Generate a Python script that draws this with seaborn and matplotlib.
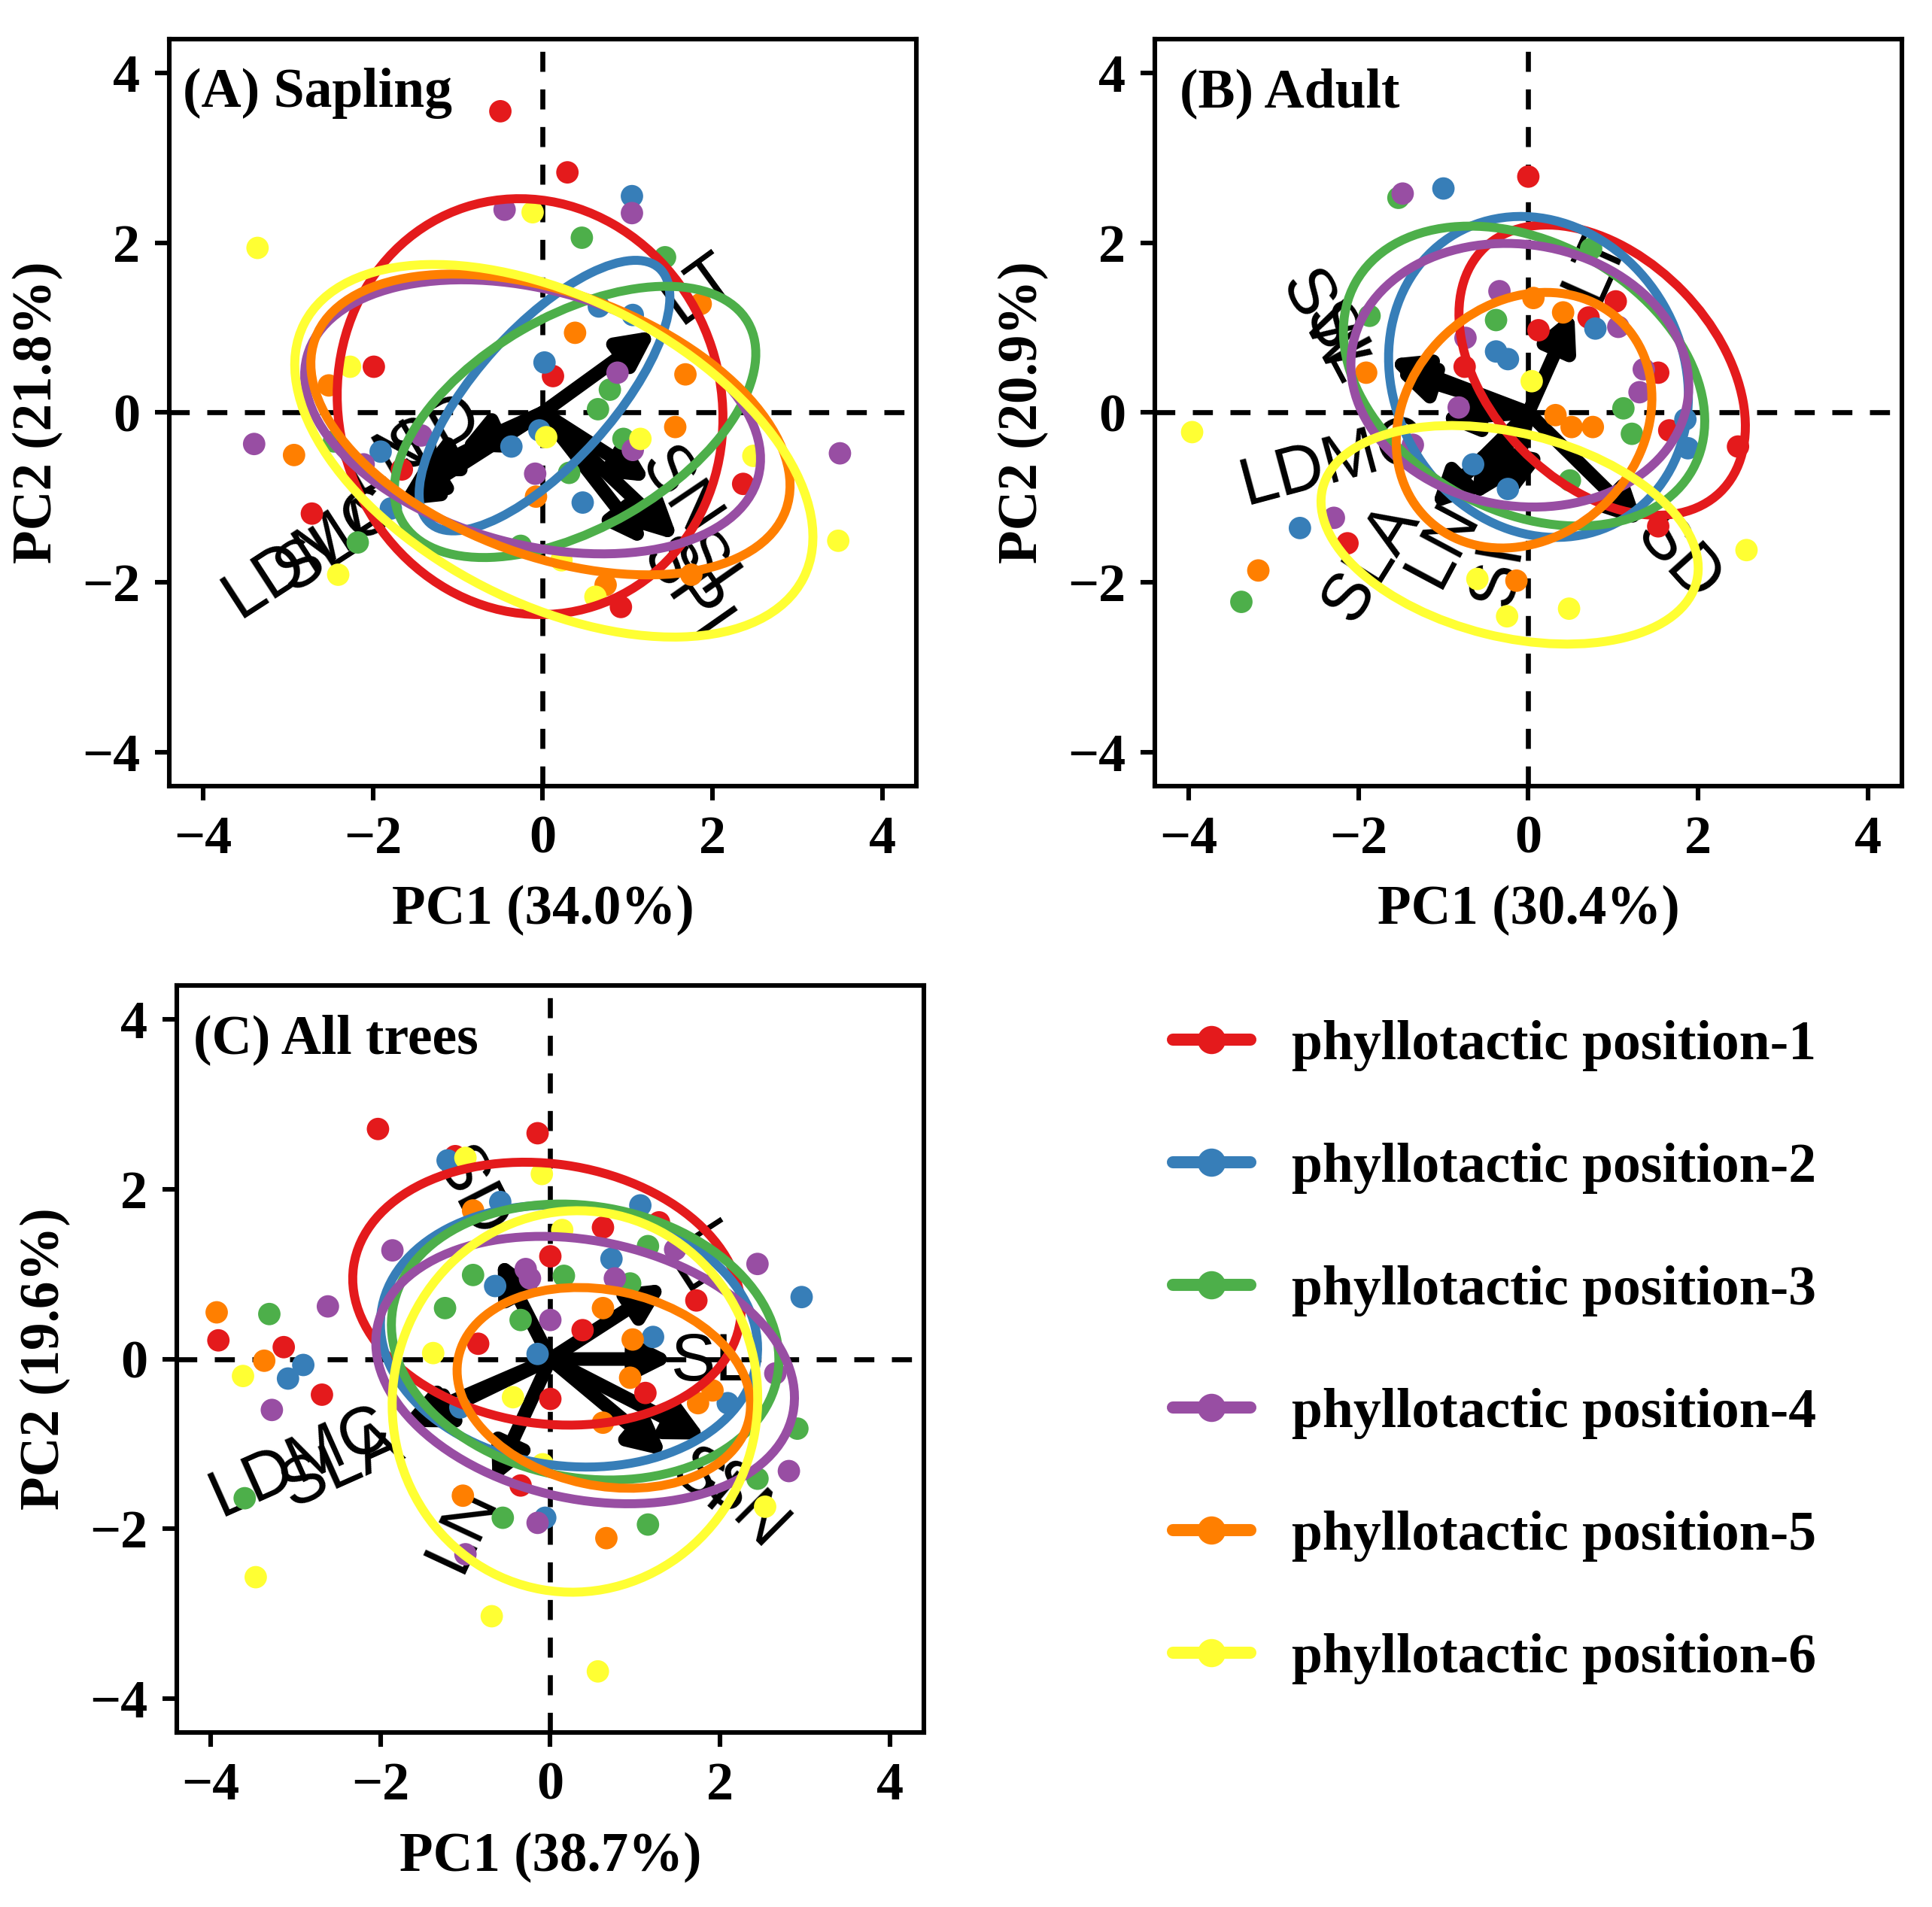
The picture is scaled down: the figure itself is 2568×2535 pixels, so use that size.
import matplotlib
matplotlib.use("Agg")
import matplotlib.pyplot as plt
from matplotlib.patches import Ellipse
from matplotlib.lines import Line2D
import pandas as pd
import seaborn as sns

# ---- data ---------------------------------------------------------------
positions = ["phyllotactic position-%d" % i for i in range(1, 7)]
colors = sns.color_palette("Set1", 6)

# scores per phyllotactic position (PC1, PC2)
sap_pts = {
    1: [(-0.50, 3.55), (0.29, 2.83), (-1.99, 0.54), (0.12, 0.43), (-2.72, -1.19),
        (2.36, -0.84), (0.92, -2.29), (-1.66, -0.67)],
    2: [(1.05, 2.55), (0.66, 1.25), (1.06, 1.15), (0.02, 0.59), (-1.91, -0.46),
        (-0.37, -0.40), (0.47, -1.06), (-0.04, -0.21), (-1.79, -1.13)],
    3: [(0.46, 2.06), (1.44, 1.83), (0.79, 0.27), (0.65, 0.04), (-2.46, -0.34),
        (0.31, -0.71), (0.95, -0.31), (-0.26, -1.57), (-2.18, -1.53)],
    4: [(-0.45, 2.39), (1.05, 2.35), (0.88, 0.47), (-3.40, -0.37), (-2.11, -0.61),
        (-1.43, -0.27), (-0.09, -0.72), (1.06, -0.44), (3.50, -0.48)],
    5: [(1.86, 1.28), (0.38, 0.94), (1.68, 0.45), (1.56, -0.17), (-2.93, -0.50),
        (-2.52, 0.32), (-0.08, -0.99), (0.74, -2.03), (1.75, -1.91)],
    6: [(-3.36, 1.94), (-0.12, 2.36), (-2.27, 0.54), (1.15, -0.31), (2.48, -0.51),
        (3.48, -1.51), (-2.41, -1.91), (0.62, -2.17), (0.04, -0.29), (0.22, -1.74)],
}
adu_pts = {
    1: [(0.00, 2.78), (1.03, 1.31), (0.12, 0.97), (0.71, 1.12), (1.53, 0.47),
        (-0.75, 0.54), (2.47, -0.40), (1.66, -0.21), (-2.13, -1.54), (1.53, -1.34)],
    2: [(-1.00, 2.64), (0.79, 0.99), (-0.38, 0.72), (-0.24, 0.63), (1.85, -0.08),
        (1.88, -0.42), (-2.69, -1.36), (-0.65, -0.61), (-0.24, -0.90)],
    3: [(-1.53, 2.53), (-1.87, 1.14), (-0.38, 1.09), (1.12, 0.05), (1.22, -0.25),
        (0.49, -0.80), (-3.38, -2.23), (0.74, 1.93)],
    4: [(-1.48, 2.58), (-0.34, 1.43), (-0.74, 0.88), (1.06, 1.01), (1.36, 0.51),
        (1.31, 0.24), (-0.82, 0.06), (-1.36, -0.38), (-2.29, -1.24)],
    5: [(-1.91, 0.47), (0.06, 1.35), (0.41, 1.18), (0.32, -0.03), (0.51, -0.17),
        (0.76, -0.17), (-3.18, -1.86), (-0.14, -1.98)],
    6: [(-3.96, -0.23), (0.04, 0.37), (2.57, -1.62), (-0.25, -2.40), (0.48, -2.31),
        (-0.60, -1.96)],
}
all_pts = {
    1: [(-2.03, 2.71), (-0.15, 2.66), (-3.91, 0.22), (-3.14, 0.14), (-2.69, -0.42),
        (0.00, 1.21), (-0.85, 0.18), (0.00, -0.47), (0.62, 1.55), (1.28, 1.61),
        (1.72, 0.69), (1.12, -0.40), (0.38, 0.34), (-1.12, 2.39), (-0.35, -1.49)],
    2: [(-1.21, 2.34), (-0.59, 1.85), (0.72, 1.18), (1.06, 1.81), (-0.65, 0.86),
        (1.21, 0.26), (2.96, 0.73), (-2.91, -0.07), (-3.09, -0.23), (2.09, -0.52),
        (-0.06, -1.87), (-1.06, -0.57), (-0.15, 0.06)],
    3: [(-3.31, 0.53), (-3.60, -1.64), (-0.91, 0.99), (-1.24, 0.60), (0.16, 0.98),
        (-0.35, 0.46), (1.15, 1.33), (2.91, -0.82), (1.15, -1.95), (-0.56, -1.87),
        (2.44, -1.41), (0.94, 0.89)],
    4: [(-2.62, 0.62), (-3.28, -0.60), (-1.86, 1.28), (-0.29, 1.06), (-0.24, 0.95),
        (0.00, 0.46), (0.76, 0.95), (1.47, 1.29), (2.44, 1.12), (2.81, -1.32),
        (-0.15, -1.93), (-1.00, -2.30), (2.65, -0.17)],
    5: [(-3.93, 0.55), (-3.37, -0.02), (-0.91, 1.75), (0.62, 0.60), (0.97, 0.23),
        (0.94, -0.22), (1.74, -0.52), (1.91, -0.37), (0.66, -2.11), (-1.03, -1.61),
        (0.62, -0.75)],
    6: [(-3.62, -0.20), (-3.47, -2.57), (-0.69, -3.03), (0.56, -3.68), (-0.10, 2.18),
        (-1.00, 2.37), (-1.38, 0.07), (2.53, -1.74), (0.14, 1.52), (-0.44, -0.45),
        (-0.09, -1.24)],
}

# group ellipses: centre x, centre y, semi-major, semi-minor, angle (deg)
sap_ell = [(-0.15, 0.07, 2.47, 2.25, 108), (0.02, 0.20, 2.02, 0.80, 48),
           (0.38, -0.11, 2.35, 1.25, 30), (-0.12, -0.05, 2.75, 1.50, -15),
           (0.09, -0.14, 2.95, 1.55, -20), (0.13, -0.45, 3.30, 1.80, -27)]
adu_ell = [(0.87, 0.50, 2.00, 1.33, -46), (0.12, 0.42, 1.95, 1.70, -60),
           (-0.05, 0.43, 2.27, 1.58, -29), (-0.10, 0.44, 2.00, 1.54, -9),
           (-0.05, -0.09, 1.63, 1.37, 45), (-0.22, -1.44, 2.27, 1.20, -14)]
all_ell = [(-0.04, 0.77, 2.30, 1.53, -8), (0.22, 0.27, 2.23, 1.53, -7),
           (0.41, 0.20, 2.30, 1.60, -10), (0.41, -0.13, 2.50, 1.52, -12),
           (0.63, -0.34, 1.75, 1.15, -12), (0.29, -0.50, 2.25, 2.15, 80)]

# loadings: name, tip x, tip y, label x, label y, label rotation
sap_vars = [("LT", 1.34, 0.97, 1.85, 1.45, 36), ("LDMC", -1.72, -1.10, -2.75, -1.65, 33),
            ("SLA", -1.65, -1.02, -2.45, -1.55, 33), ("LN", -1.50, -0.75, -1.85, -0.55, 30),
            ("SD", -1.00, -0.45, -1.25, -0.25, 30), ("SN", 1.28, -0.82, 1.60, -0.95, -56),
            ("SI", 1.60, -1.51, 1.90, -1.80, -55), ("SPI", 1.22, -1.57, 1.68, -2.10, -55)]
adu_vars = [("LT", 0.54, 1.21, 0.80, 1.75, 66), ("SW", -1.66, 0.63, -2.45, 1.05, -62),
            ("SL", -1.60, 0.50, -2.25, 0.80, -62), ("LDMC", -1.07, -0.08, -2.30, -0.60, 15),
            ("SLA", -1.15, -1.14, -1.85, -1.76, 58), ("LN", -0.67, -1.05, -1.00, -1.55, 62),
            ("SI", -0.20, -1.02, -0.35, -1.90, 80), ("SD", 1.36, -1.34, 1.76, -1.73, -48)]
all_vars = [("SD", -0.62, 1.21, -0.95, 1.95, -63), ("LT", 1.38, 0.89, 1.85, 1.20, 33),
            ("SL", 1.47, 0.00, 1.90, -0.05, 0), ("LDMC", -1.74, -0.75, -2.95, -1.22, 24),
            ("SLA", -1.65, -0.80, -2.45, -1.26, 24), ("LN", -0.68, -1.47, -1.03, -2.00, 65),
            ("SI", 1.38, -1.15, 1.80, -1.45, -40), ("SN", 1.85, -0.95, 2.28, -1.75, -45)]

panels = [
    ("(A) Sapling", "PC1 (34.0%)", "PC2 (21.8%)", sap_pts, sap_ell, sap_vars),
    ("(B) Adult", "PC1 (30.4%)", "PC2 (20.9%)", adu_pts, adu_ell, adu_vars),
    ("(C) All trees", "PC1 (38.7%)", "PC2 (19.6%)", all_pts, all_ell, all_vars),
]

# ---- style ---------------------------------------------------------------
sns.set_style("ticks", {"axes.edgecolor": "black", "xtick.color": "black",
                        "ytick.color": "black", "text.color": "black",
                        "axes.labelcolor": "black"})
plt.rcParams["font.family"] = ["Liberation Serif", "DejaVu Serif"]
plt.rcParams["font.weight"] = "bold"
plt.rcParams["axes.labelweight"] = "bold"

pal = dict(zip(positions, colors))
fig = plt.figure(figsize=(12.84, 12.675), dpi=200)
boxes = [[0.0876, 0.5878, 0.3867, 0.3917],
         [0.5977, 0.5878, 0.3867, 0.3917],
         [0.0915, 0.0915, 0.3867, 0.3917]]
tag_x = [0.018, 0.033, 0.022]

for (tag, xl, yl, pts, ells, vars_), box, tx in zip(panels, boxes, tag_x):
    ax = fig.add_axes(box)
    df = pd.DataFrame([(positions[g - 1], x, y) for g, lst in pts.items() for x, y in lst],
                      columns=["pos", "PC1", "PC2"])
    ax.axhline(0, color="black", lw=2.4, ls=(0, (4, 3.5)), zorder=1)
    ax.axvline(0, color="black", lw=2.4, ls=(0, (4, 3.5)), zorder=1)

    for name, vx, vy, lx, ly, rot in vars_:
        ax.annotate("", xy=(vx, vy), xytext=(0, 0), zorder=2,
                    arrowprops=dict(arrowstyle="-|>", color="black", lw=6.5,
                                    mutation_scale=34, shrinkA=0, shrinkB=0,
                                    capstyle="round", joinstyle="round"))
        ax.text(lx, ly, name, rotation=rot, rotation_mode="anchor", ha="center",
                va="center", fontsize=32, fontweight="normal",
                family="Liberation Sans", zorder=2)

    sns.scatterplot(data=df, x="PC1", y="PC2", hue="pos", palette=pal, s=115,
                    linewidth=0, legend=False, ax=ax, zorder=3)

    for (cx, cy, a, b, ang), c in zip(ells, colors):
        ax.add_patch(Ellipse((cx, cy), 2 * a, 2 * b, angle=ang, fill=False,
                             ec=c, lw=4.3, zorder=4))

    ax.set_xlim(-4.4, 4.4)
    ax.set_ylim(-4.4, 4.4)
    ax.set_xticks([-4, -2, 0, 2, 4])
    ax.set_yticks([-4, -2, 0, 2, 4])
    ax.tick_params(labelsize=26, length=7, width=2.2, pad=7)
    for sp in ax.spines.values():
        sp.set_linewidth(2.2)
        sp.set_visible(True)
    ax.set_xlabel(xl, fontsize=26.3, labelpad=10)
    ax.set_ylabel(yl, fontsize=26.3, labelpad=9)
    ax.text(tx, 0.962, tag, transform=ax.transAxes, ha="left", va="top",
            fontsize=26.5, fontweight="bold", zorder=6)

handles = [Line2D([0], [0], color=c, lw=5.8, marker="o", markersize=12.5)
           for c in colors]
fig.legend(handles, positions, loc="upper left", bbox_to_anchor=(0.607, 0.465),
           frameon=False, prop={"family": "Liberation Serif", "weight": "bold", "size": 26.5},
           handlelength=1.4, handletextpad=0.75, labelspacing=1.29,
           borderpad=0, borderaxespad=0)

fig.savefig("out.png", dpi=200)
